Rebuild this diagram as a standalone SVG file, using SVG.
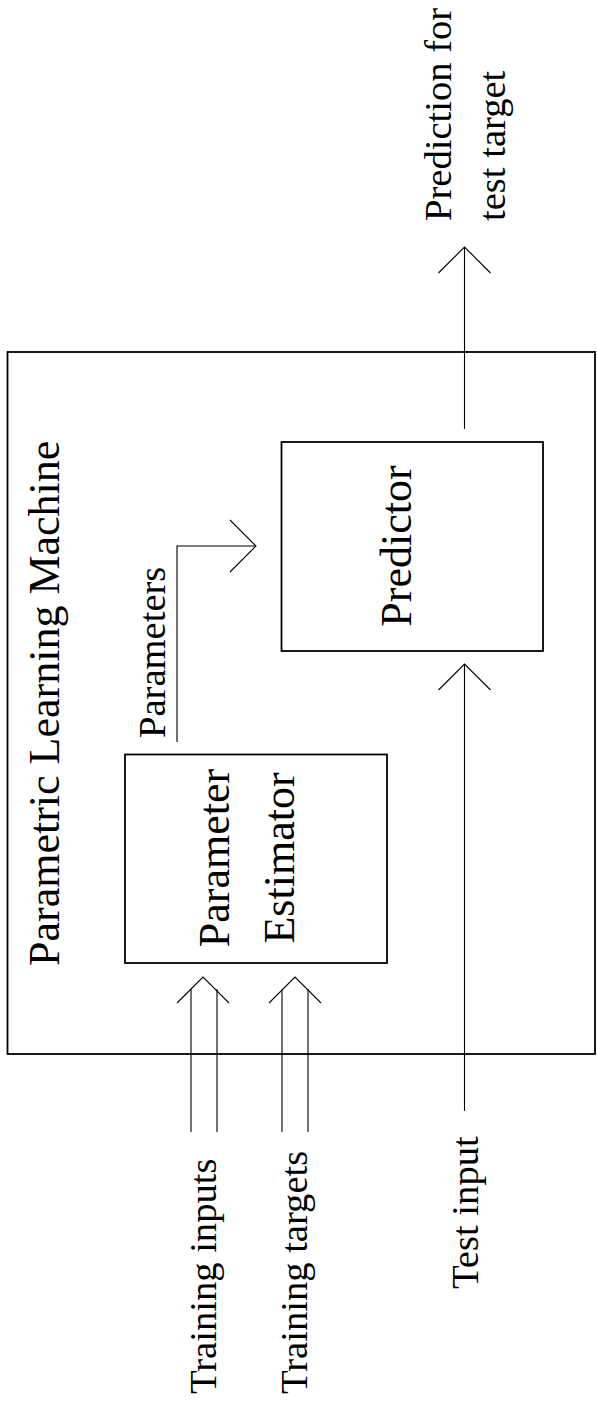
<svg xmlns="http://www.w3.org/2000/svg" width="597" height="1408" viewBox="0 0 597 1408">
<style>
.box{fill:none;stroke:#000;stroke-width:1.8}
.ln{fill:none;stroke:#000;stroke-width:1.1}
text{font-family:"Liberation Serif","Times New Roman",serif;fill:#000}
.big{font-size:44px}
.sm{font-size:38.6px}
</style>
<rect width="597" height="1408" fill="#fff"/>
<g id="machine">
<rect class="box" x="7.5" y="352" width="587.5" height="702"/>
<text class="big" transform="translate(59,966) rotate(-90)">Parametric Learning Machine</text>
</g>
<g id="estimator">
<rect class="box" x="125" y="754.5" width="262" height="208.5"/>
<text class="big" text-anchor="middle" transform="translate(229,858) rotate(-90)">Parameter</text>
<text class="big" text-anchor="middle" transform="translate(294,858) rotate(-90)">Estimator</text>
</g>
<g id="predictor">
<rect class="box" x="281.5" y="442" width="261.5" height="209"/>
<text class="big" text-anchor="middle" transform="translate(411,546) rotate(-90)">Predictor</text>
</g>
<g id="labels">
<text class="sm" transform="translate(216,1394) rotate(-90)">Training inputs</text>
<text class="sm" transform="translate(307,1394) rotate(-90)">Training targets</text>
<text class="sm" transform="translate(478,1289) rotate(-90)">Test input</text>
<text class="sm" transform="translate(165,738) rotate(-90)">Parameters</text>
<text class="sm" transform="translate(451,221) rotate(-90)">Prediction for</text>
<text class="sm" transform="translate(505,221) rotate(-90)">test target</text>
</g>
<g id="connectors">
<line class="ln" x1="191" y1="989" x2="191" y2="1132"/>
<line class="ln" x1="217" y1="989" x2="217" y2="1132"/>
<polyline class="ln" points="177,1003 203,977 229,1003"/>
<line class="ln" x1="282" y1="989" x2="282" y2="1132"/>
<line class="ln" x1="308" y1="989" x2="308" y2="1132"/>
<polyline class="ln" points="269,1003 295,977 321,1003"/>
<line class="ln" x1="464.5" y1="664" x2="464.5" y2="1111"/>
<polyline class="ln" points="438.5,690 464.5,664 490.5,690"/>
<polyline class="ln" points="177,742 177,546 256,546"/>
<polyline class="ln" points="230,520 256,546 230,572"/>
<line class="ln" x1="464.5" y1="247" x2="464.5" y2="429"/>
<polyline class="ln" points="438.5,273 464.5,247 490.5,273"/>
</g>
</svg>
